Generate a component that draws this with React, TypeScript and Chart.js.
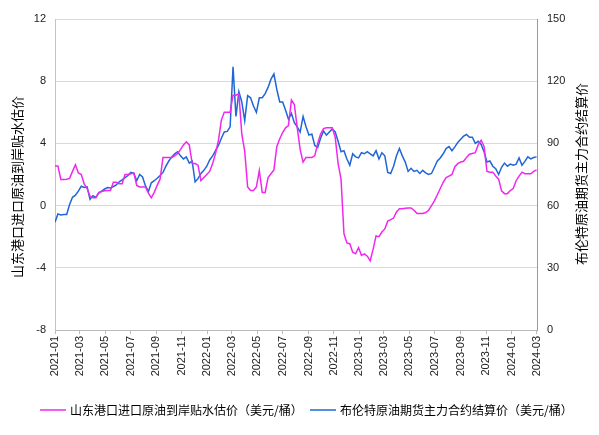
import React, { useEffect, useRef } from "react";
import { Chart, registerables } from "chart.js";

Chart.register(...registerables);

const startDate = "2021-01-01";
const endDate = "2024-03-02";
const stepDays = 7;

const monthTicks = [
  "2021-01", "2021-03", "2021-05", "2021-07", "2021-09", "2021-11",
  "2022-01", "2022-03", "2022-05", "2022-07", "2022-09", "2022-11",
  "2023-01", "2023-03", "2023-05", "2023-07", "2023-09", "2023-11",
  "2024-01", "2024-03",
];

const seriesNames = [
  "山东港口进口原油到岸贴水估价（美元/桶）",
  "布伦特原油期货主力合约结算价（美元/桶）",
];
const leftTitle = "山东港口进口原油到岸贴水估价";
const rightTitle = "布伦特原油期货主力合约结算价";

const leftTicks = [-8, -4, 0, 4, 8, 12];
const rightTicks = [0, 30, 60, 90, 120, 150];

// weekly values, starting 2021-01-01
const premium = [
  2.54, 2.54, 1.68, 1.68, 1.7, 1.75, 2.2, 2.63, 2.1, 2.0,
  1.4, 1.1, 0.6, 0.5, 0.5, 0.85, 0.9, 0.95, 0.97, 0.97,
  1.5, 1.5, 1.4, 1.4, 2.0, 2.0, 2.05, 2.1, 1.3, 1.2,
  1.2, 1.2, 0.8, 0.5, 0.85, 1.3, 1.7, 3.1, 3.1, 3.1,
  3.1, 3.2, 3.35, 3.6, 3.9, 4.1, 3.9, 2.7, 2.7, 2.6,
  1.6, 1.8, 2.0, 2.2, 2.7, 3.35, 4.2, 5.5, 6.0, 6.0,
  6.0, 7.1, 7.1, 7.2, 4.6, 3.5, 1.2, 0.97, 0.97, 1.2,
  2.25, 0.85, 0.85, 1.8, 2.05, 2.3, 3.8, 4.3, 4.7, 5.0,
  5.15, 6.8, 6.5, 5.0, 3.6, 2.8, 3.1, 3.1, 3.1, 3.2,
  4.0, 4.6, 4.95, 5.0, 5.0, 5.0, 4.4, 2.7, 1.7, -1.8,
  -2.4, -2.45, -3.0, -3.1, -2.7, -3.2, -3.1, -3.25, -3.55, -2.8,
  -1.95, -2.0, -1.7, -1.5, -1.0, -0.9, -0.8, -0.4, -0.2, -0.2,
  -0.17, -0.15, -0.15, -0.3, -0.5, -0.5, -0.5, -0.45, -0.3, 0.0,
  0.3, 0.7, 1.1, 1.5, 1.8, 1.9, 2.0, 2.5, 2.7, 2.8,
  2.85, 3.1, 3.3, 3.35, 3.4, 3.9, 4.2, 3.8, 2.2, 2.15,
  2.15, 1.9, 1.7, 0.95, 0.77, 0.77, 0.97, 1.1, 1.6, 1.9,
  2.15, 2.05, 2.05, 2.05, 2.2, 2.3,
];

const brent = [
  52, 56, 55.5, 55.7, 55.7, 60.5, 64, 65, 67, 69.3,
  68.7, 69, 63, 64.8, 64, 66, 67, 68, 68.7, 68.5,
  69.2, 70, 71.5, 72.4, 73.5, 74.5, 76, 75.5, 72, 75,
  73.8, 69.5, 66.8, 71, 72, 73.2, 74.5, 76, 79, 81.5,
  83.5, 85, 86, 84, 82.5, 83.5, 80.5, 81.5, 71.5, 73,
  75.5, 77, 79, 82, 84, 86.5, 89, 92.5, 95.5, 95.8,
  98, 127, 103, 115, 110, 101, 113, 112, 108, 105,
  112, 112, 114, 117, 121, 123.5, 116, 110, 110, 106,
  101.6, 104.5, 100, 98, 95.5, 103, 98, 94, 94.5, 89,
  88, 92.5, 96, 94, 95.5, 97, 95.5, 91, 86, 86.5,
  82.5, 79.5, 85, 83.5, 83, 85.5, 85, 86, 85, 84,
  86.5, 82.5, 85.5, 84, 76, 75.5, 79, 84, 87.5, 84,
  81, 76.5, 78, 76.5, 77, 75.5, 77, 75.8, 75, 75.5,
  78.5, 81.5, 83, 85, 87.5, 88.5, 86.5, 88.3, 90.5, 92,
  93.5, 94.3, 93, 93, 90, 91, 89.5, 86, 81, 81.5,
  79, 77.8, 75, 78.5, 80.5, 79, 80, 79.5, 80, 83,
  79.5, 81.3, 83.5, 82.5, 83.2, 83.5,
];

const colors = ["#f028ee", "#1f66d6"];
const legendColors = ["#f060ee", "#5590e0"];

const DAY = 86400000;
const dayOf = (s: string) => {
  const [y, m, d] = s.split("-").map(Number);
  return Math.round((Date.UTC(y, m - 1, d || 1) - Date.UTC(2021, 0, 1)) / DAY);
};

const FONT = "'Liberation Sans', 'Noto Sans CJK SC', sans-serif";
const CJK = "'Noto Sans CJK SC', 'Liberation Sans', sans-serif";

export default function App() {
  const ref = useRef<HTMLCanvasElement | null>(null);

  useEffect(() => {
    if (!ref.current) return;
    const x0 = dayOf(startDate);
    const tickDays = monthTicks.map((m) => dayOf(m + "-01"));
    const labelByDay: Record<number, string> = {};
    tickDays.forEach((d, i) => (labelByDay[d] = monthTicks[i]));

    const decor = {
      id: "decor",
      afterDraw(chart: any) {
        const ctx = chart.ctx;
        const area = chart.chartArea;
        ctx.save();
        ctx.fillStyle = "#000";
        ctx.font = "13px " + CJK;
        ctx.textAlign = "center";
        ctx.textBaseline = "middle";
        ctx.save();
        ctx.translate(17.5, 187);
        ctx.rotate(-Math.PI / 2);
        ctx.fillText(leftTitle, 0, 0);
        ctx.restore();
        ctx.save();
        ctx.translate(581, 174);
        ctx.rotate(-Math.PI / 2);
        ctx.fillText(rightTitle, 0, 0);
        ctx.restore();
        // legend
        const ly = 410;
        const items = [
          { x: 40, color: legendColors[0], text: seriesNames[0] },
          { x: 310, color: legendColors[1], text: seriesNames[1] },
        ];
        ctx.font = "12px " + CJK;
        ctx.textAlign = "left";
        items.forEach((it) => {
          ctx.strokeStyle = it.color;
          ctx.lineWidth = 2;
          ctx.beginPath();
          ctx.moveTo(it.x, ly);
          ctx.lineTo(it.x + 26, ly);
          ctx.stroke();
          ctx.fillStyle = "#000";
          ctx.fillText(it.text, it.x + 30, ly);
        });
        ctx.restore();
        void area;
      },
    };

    const chart = new Chart(ref.current, {
      type: "line",
      data: {
        datasets: [
          {
            label: seriesNames[0],
            data: premium.map((v, i) => ({ x: x0 + i * stepDays, y: v })),
            borderColor: colors[0],
            backgroundColor: colors[0],
            borderWidth: 1.5,
            pointRadius: 0,
            tension: 0,
            yAxisID: "y",
          },
          {
            label: seriesNames[1],
            data: brent.map((v, i) => ({ x: x0 + i * stepDays, y: v })),
            borderColor: colors[1],
            backgroundColor: colors[1],
            borderWidth: 1.5,
            pointRadius: 0,
            tension: 0,
            yAxisID: "y1",
          },
        ],
      },
      options: {
        animation: false,
        responsive: true,
        maintainAspectRatio: false,
        layout: { padding: { top: 19, bottom: 55, left: 0, right: 0 } },
        plugins: {
          legend: { display: false },
          tooltip: { enabled: false },
        },
        scales: {
          x: {
            type: "linear",
            min: x0,
            max: dayOf(endDate),
            afterBuildTicks: (scale: any) => {
              scale.ticks = tickDays.map((d) => ({ value: d }));
            },
            afterFit: (scale: any) => {
              scale.height = 50;
            },
            ticks: {
              autoSkip: false,
              minRotation: 90,
              maxRotation: 90,
              padding: 2,
              color: "#222",
              font: { size: 11, family: FONT },
              callback: (v: any) => labelByDay[v as number] ?? "",
            },
            grid: {
              drawOnChartArea: false,
              drawTicks: true,
              tickLength: 4,
              color: "#bbbbbb",
            },
            border: { display: true, color: "#bbbbbb" },
          },
          y: {
            position: "left",
            min: leftTicks[0],
            max: leftTicks[leftTicks.length - 1],
            afterBuildTicks: (scale: any) => {
              scale.ticks = leftTicks.map((v) => ({ value: v }));
            },
            afterFit: (scale: any) => {
              scale.width = 55;
            },
            ticks: {
              padding: 9,
              color: "#222",
              font: { size: 11, family: FONT },
            },
            grid: { color: "#d9d9d9", drawTicks: false },
            border: { display: true, color: "#c4c4c4" },
          },
          y1: {
            position: "right",
            min: rightTicks[0],
            max: rightTicks[rightTicks.length - 1],
            afterBuildTicks: (scale: any) => {
              scale.ticks = rightTicks.map((v) => ({ value: v }));
            },
            afterFit: (scale: any) => {
              scale.width = 62;
            },
            ticks: {
              padding: 10,
              color: "#222",
              font: { size: 11, family: FONT },
            },
            grid: { display: false, drawTicks: false },
            border: { display: true, color: "#9a9a9a" },
          },
        },
      },
      plugins: [decor],
    } as any);

    return () => chart.destroy();
  }, []);

  return (
    <div style={{ position: "absolute", left: 0, top: 0, width: 599, height: 435 }}>
      <canvas ref={ref} />
    </div>
  );
}
